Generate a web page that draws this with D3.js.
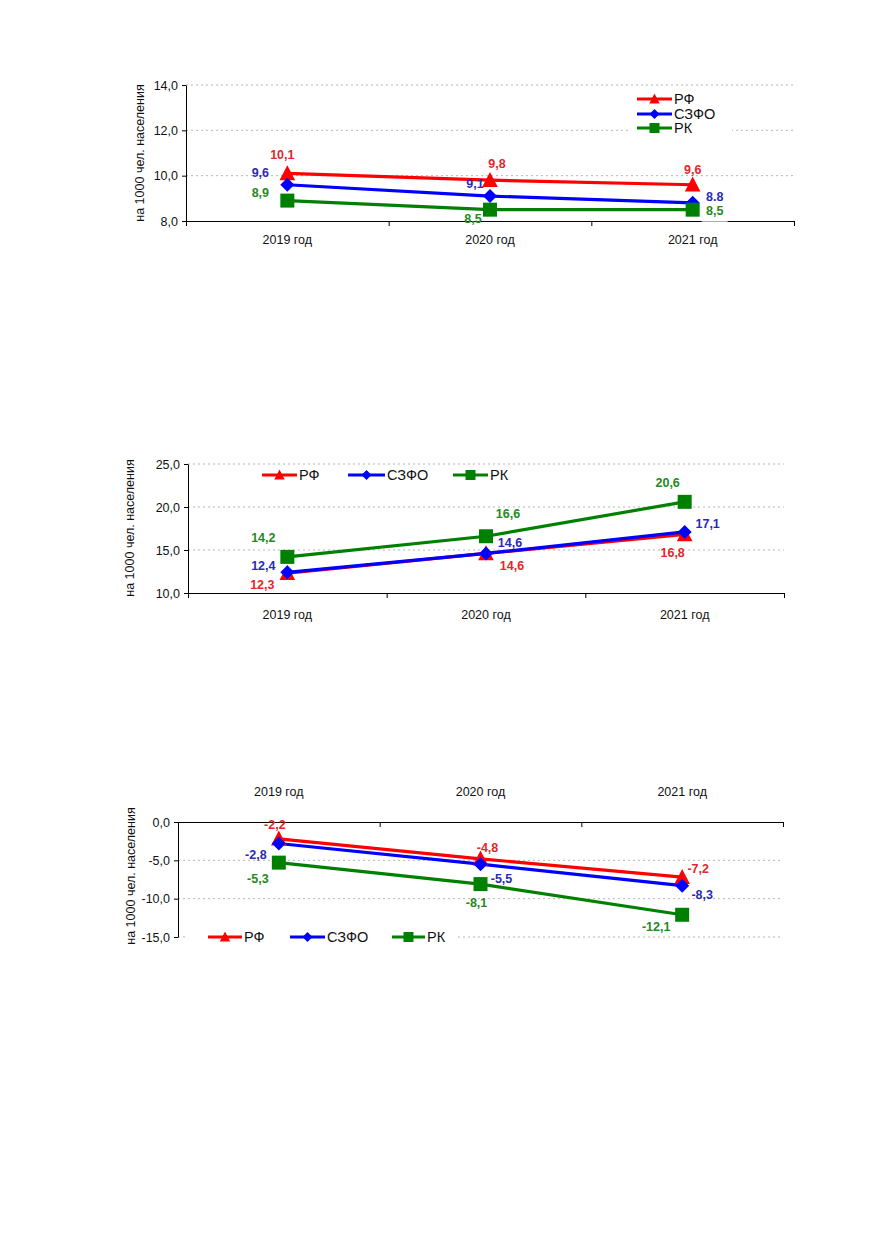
<!DOCTYPE html>
<html>
<head>
<meta charset="utf-8">
<script src="https://cdn.jsdelivr.net/npm/d3@7"></script>
<style>
  body { margin: 0; background: #fff; }
  text { font-family: "Liberation Sans", Arial, sans-serif; }
</style>
</head>
<body>
<div id="chart"></div>
<script>
// categories
var years = ["2019 год", "2020 год", "2021 год"];
var seriesNames = ["РФ", "СЗФО", "РК"];

// chart 1
var rf1 = [10.1, 9.8, 9.6];
var szfo1 = [9.6, 9.1, 8.8];
var rk1 = [8.9, 8.5, 8.5];
var szfo1Labels = ["9,6", "9,1", "8.8"];
var ticks1 = [8, 10, 12, 14];

// chart 2
var rf2 = [12.3, 14.6, 16.8];
var szfo2 = [12.4, 14.6, 17.1];
var rk2 = [14.2, 16.6, 20.6];
var ticks2 = [10, 15, 20, 25];

// chart 3
var rf3 = [-2.2, -4.8, -7.2];
var szfo3 = [-2.8, -5.5, -8.3];
var rk3 = [-5.3, -8.1, -12.1];
var ticks3 = [0, -5, -10, -15];

var yTitle = "на 1000 чел. населения";

var lineColors = ["#ff0000", "#0000ff", "#008000"];
var labelColors = ["#e5262b", "#2a2ab8", "#238a23"];
var shapes = ["triangle", "diamond", "square"];

var fmt = function(d) { return d.toFixed(1).replace(".", ","); };

var svg = d3.select("#chart")
  .append("svg")
    .attr("width", 875)
    .attr("height", 1241);

svg.append("rect").attr("width", 875).attr("height", 1241).attr("fill", "#fff");

function shapePath(shape, s) {
  if (shape == "triangle")
    return "M0," + (-s * 0.55) + "L" + (s * 0.52) + "," + (s * 0.45) + "L" + (-s * 0.52) + "," + (s * 0.45) + "Z";
  if (shape == "diamond")
    return "M0," + (-s / 2) + "L" + (s / 2) + ",0L0," + (s / 2) + "L" + (-s / 2) + ",0Z";
  return "M" + (-s / 2) + "," + (-s / 2) + "h" + s + "v" + s + "h" + (-s) + "Z";
}

function drawChart(c) {
  var x = d3.scaleBand().domain(years).range([c.x0, c.x1]);
  var xb = d3.scaleLinear().domain([0, years.length]).range([c.x0, c.x1]);
  var y = d3.scaleLinear().domain(c.domain).range([c.yBottom, c.yTop]);
  var g = svg.append("g");

  // gridlines
  g.selectAll(".grid")
    .data(c.ticks.filter(function(t) { return t !== c.axisAt; }))
    .enter().append("line")
      .attr("x1", c.x0).attr("x2", c.x1)
      .attr("y1", function(d) { return y(d); })
      .attr("y2", function(d) { return y(d); })
      .attr("stroke", "#b5b5b5")
      .attr("stroke-dasharray", "2,3");

  // legend background
  g.append("rect")
    .attr("x", c.legend.bg[0]).attr("y", c.legend.bg[1])
    .attr("width", c.legend.bg[2]).attr("height", c.legend.bg[3])
    .attr("fill", "#fff");

  // y axis
  var ya = g.append("g")
    .attr("transform", "translate(" + c.x0 + ",0)")
    .call(d3.axisLeft(y).tickValues(c.ticks).tickFormat(fmt).tickSize(4).tickSizeOuter(0).tickPadding(4));
  ya.selectAll("text").attr("font-size", 12.5).attr("fill", "#111")
    .style("font-family", "Liberation Sans, Arial, sans-serif");
  ya.select(".domain").attr("stroke", "#000");

  // x axis (ticks between categories)
  var xa = g.append("g")
    .attr("transform", "translate(0," + y(c.axisAt) + ")")
    .call(d3.axisBottom(xb).tickValues(d3.range(years.length + 1)).tickFormat("").tickSize(5).tickSizeOuter(0));
  xa.select(".domain").attr("stroke", "#000");

  g.selectAll(".cat")
    .data(years)
    .enter().append("text")
      .attr("x", function(d) { return x(d) + x.bandwidth() / 2; })
      .attr("y", c.catY)
      .attr("text-anchor", "middle")
      .attr("font-size", 12.5)
      .attr("fill", "#111")
      .text(function(d) { return d; });

  // y title
  g.append("text")
    .attr("transform", "translate(" + c.titleX + "," + c.titleY + ") rotate(-90)")
    .attr("text-anchor", "middle")
    .attr("dominant-baseline", "central")
    .attr("font-size", 12.5)
    .attr("fill", "#111")
    .text(yTitle);

  var cx = function(i) { return x(years[i]) + x.bandwidth() / 2; };
  var line = d3.line()
    .x(function(d, i) { return cx(i); })
    .y(function(d) { return y(d); });

  c.series.forEach(function(s, k) {
    g.append("path")
      .datum(s.values)
      .attr("d", line)
      .attr("fill", "none")
      .attr("stroke", lineColors[k])
      .attr("stroke-width", 3.2);
  });

  c.series.forEach(function(s, k) {
    g.selectAll(".m" + k)
      .data(s.values)
      .enter().append("path")
        .attr("transform", function(d, i) { return "translate(" + cx(i) + "," + y(d) + ")"; })
        .attr("d", shapePath(shapes[k], shapes[k] == "triangle" ? 15 : 14))
        .attr("fill", lineColors[k]);
  });

  c.series.forEach(function(s, k) {
    s.values.forEach(function(d, i) {
      var lx = cx(i) + s.offsets[i][0], ly = y(d) + s.offsets[i][1];
      if (s.labelBg && s.labelBg[i]) {
        g.append("rect")
          .attr("x", lx - 13).attr("y", ly - 9)
          .attr("width", 26).attr("height", 20)
          .attr("fill", "#fff");
      }
      g.append("text")
        .attr("x", lx).attr("y", ly)
        .attr("text-anchor", "middle")
        .attr("dominant-baseline", "central")
        .attr("font-size", 12.5)
        .attr("font-weight", "bold")
        .attr("fill", labelColors[k])
        .text(s.labels ? s.labels[i] : fmt(d));
    });
  });

  // legend
  c.series.forEach(function(s, k) {
    var it = c.legend.items[k];
    g.append("line")
      .attr("x1", it[0]).attr("x2", it[1])
      .attr("y1", it[2]).attr("y2", it[2])
      .attr("stroke", lineColors[k]).attr("stroke-width", 3.2);
    g.append("path")
      .attr("transform", "translate(" + ((it[0] + it[1]) / 2) + "," + it[2] + ")")
      .attr("d", shapePath(shapes[k], 10))
      .attr("fill", lineColors[k]);
    g.append("text")
      .attr("x", it[1] + 2).attr("y", it[2])
      .attr("dominant-baseline", "central")
      .attr("font-size", 14.5)
      .attr("fill", "#111")
      .text(seriesNames[k]);
  });
}

drawChart({
  x0: 186, x1: 794, yTop: 85, yBottom: 221,
  domain: [8, 14], ticks: ticks1, axisAt: 8,
  catY: 244, titleX: 140, titleY: 153,
  legend: { bg: [630, 91, 102, 45], items: [[637, 672, 99], [637, 672, 114], [637, 672, 128]] },
  series: [
    { values: rf1, offsets: [[-5, -18], [7, -16], [0, -15]] },
    { values: szfo1, labels: szfo1Labels, offsets: [[-27, -12], [-15, -12], [22, -6]] },
    { values: rk1, offsets: [[-27, -8], [-17, 9], [22, 1]], labelBg: [false, false, true] }
  ]
});

drawChart({
  x0: 188, x1: 784, yTop: 464, yBottom: 593,
  domain: [10, 25], ticks: ticks2, axisAt: 10,
  catY: 619, titleX: 130, titleY: 528,
  legend: { bg: [248, 466, 274, 18], items: [[262, 297, 475], [348, 385, 475], [453, 488, 475]] },
  series: [
    { values: rf2, offsets: [[-25, 12], [26, 13], [-12, 18]] },
    { values: szfo2, offsets: [[-24, -6], [24, -10], [23, -8]] },
    { values: rk2, offsets: [[-24, -19], [22, -22], [-17, -19]] }
  ]
});

drawChart({
  x0: 178, x1: 783, yTop: 822, yBottom: 937,
  domain: [-15, 0], ticks: ticks3, axisAt: 0,
  catY: 796, titleX: 131, titleY: 876,
  legend: { bg: [186, 929, 270, 16], items: [[208, 242, 937], [290, 325, 937], [392, 425, 937]] },
  series: [
    { values: rf3, offsets: [[-4, -14], [7, -11], [16, -8]] },
    { values: szfo3, offsets: [[-23, 12], [21, 15], [20, 9]] },
    { values: rk3, offsets: [[-21, 16], [-4, 19], [-26, 12]] }
  ]
});
</script>
</body>
</html>
